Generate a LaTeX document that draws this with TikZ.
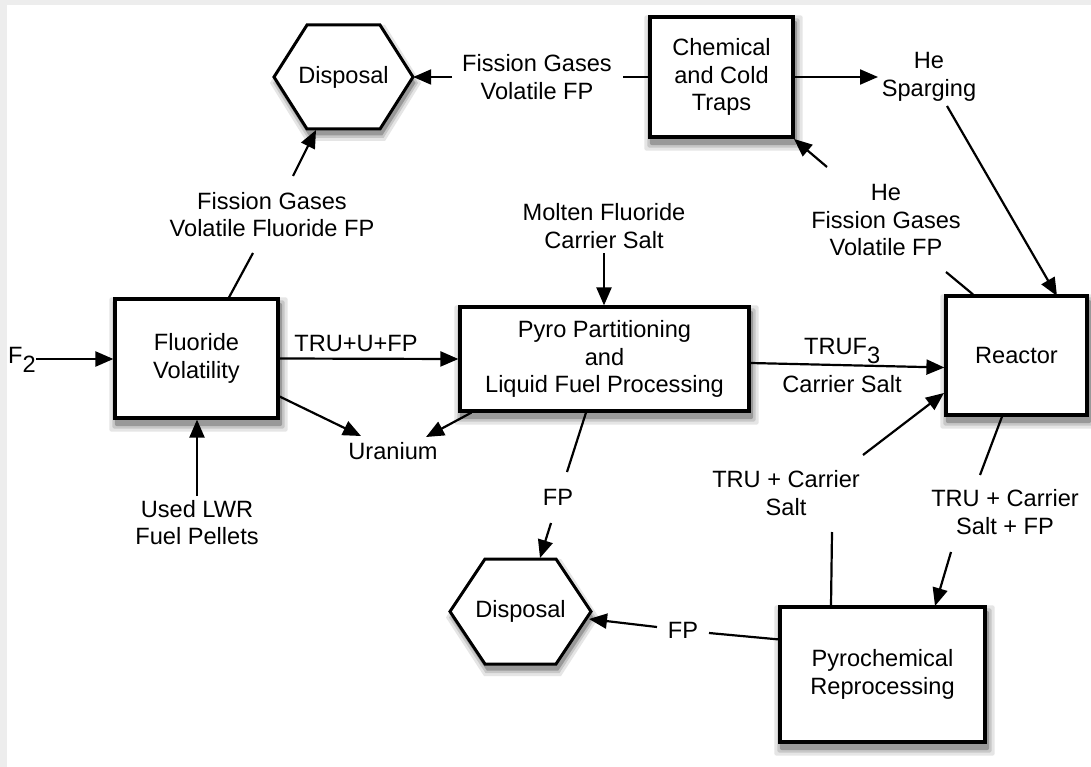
\documentclass[tikz,border=0pt]{standalone}
\usepackage{fontspec}
\setmainfont{Liberation Sans}
\usetikzlibrary{arrows.meta}
\tikzset{
  lbl/.style={font=\fontsize{23.6}{27.5}\selectfont, align=center, inner sep=0pt},
  procbox/.style={lbl, draw, line width=3.2pt, fill=white},
  hexbox/.style={lbl},
  hexline/.style={draw, line width=3pt, fill=white, line join=miter},
  ln/.style={line width=2.2pt},
  arr/.style={line width=2.2pt, -{Triangle[length=18pt,width=15pt]}},
  shadowfill/.style={fill=#1, draw=none},
}
\begin{document}
\begin{tikzpicture}[x=1pt,y=-1pt]
\useasboundingbox (0,0) rectangle (1091,767);
\fill[black!7] (0,0) rectangle (1091,767);
\fill[white] (7,5) rectangle (1091,767);

% shadows (layered greys, offset right and down)
\foreach \cx/\cy/\w/\h in {196.5/358.5/163/119, 604.5/359/289/104, 1016.5/355.5/141/119, 721.5/77/143/120, 882.5/674.5/205/135}{
  \foreach \g/\c in {6/10, 3/22, 0.5/40}{
    \path[shadowfill=black!\c, rounded corners=2pt]
      ({\cx-\w/2-1.6+2-\g},{\cy-\h/2-1.6+6-\g}) rectangle ({\cx+\w/2+1.6+2+\g},{\cy+\h/2+1.6+6+\g});
  }
}
\foreach \cx/\cy/\w/\h/\e in {343.5/77/139/104/33, 520.5/611.5/141/105/35}{
  \foreach \g/\c in {6/10, 3/22, 0.5/40}{
    \path[shadowfill=black!\c]
      ({\cx-\w/2-\g+2},{\cy+6}) -- ({\cx-\w/2+\e-\g/2+2},{\cy-\h/2-\g+6}) -- ({\cx+\w/2-\e+\g/2+2},{\cy-\h/2-\g+6})
      -- ({\cx+\w/2+\g+2},{\cy+6}) -- ({\cx+\w/2-\e+\g/2+2},{\cy+\h/2+\g+6}) -- ({\cx-\w/2+\e-\g/2+2},{\cy+\h/2+\g+6}) -- cycle;
  }
  \path[hexline]
    ({\cx-\w/2},{\cy}) -- ({\cx-\w/2+\e},{\cy-\h/2}) -- ({\cx+\w/2-\e},{\cy-\h/2})
    -- ({\cx+\w/2},{\cy}) -- ({\cx+\w/2-\e},{\cy+\h/2}) -- ({\cx-\w/2+\e},{\cy+\h/2}) -- cycle;
}

% process boxes
\node[procbox, minimum width=163pt, minimum height=119pt] (fluor) at (196.5,358.5) {Fluoride\\Volatility};
\node[procbox, minimum width=289pt, minimum height=104pt] (pyro) at (604.5,359) {Pyro Partitioning\\and\\Liquid Fuel Processing};
\node[procbox, minimum width=141pt, minimum height=119pt] (reactor) at (1016.5,355.5) {Reactor};
\node[procbox, minimum width=143pt, minimum height=120pt] (chem) at (721.5,77) {Chemical\\and Cold\\Traps};
\node[procbox, minimum width=205pt, minimum height=135pt] (pyrochem) at (882.5,674.5) {Pyrochemical\\Reprocessing};

% disposal hexagons (text; outline drawn above)
\node[hexbox, minimum width=139pt, minimum height=104pt] (disp1) at (343.5,77) {Disposal};
\node[hexbox, minimum width=141pt, minimum height=105pt] (disp2) at (520.5,611.5) {Disposal};

% labels
\node[lbl, anchor=base west] (f2) at (8,363) {F\raisebox{-9pt}{2}};
\node[lbl] (fgtop) at (537,77) {Fission Gases\\Volatile FP};
\node[lbl] (spar) at (929,77) {He\\Sparging};
\node[lbl] (hefg) at (886,220) {He\\Fission Gases\\Volatile FP};
\node[lbl] (molten) at (604,226) {Molten Fluoride\\Carrier Salt};
\node[lbl] (fgvol) at (272,214.5) {Fission Gases\\Volatile Fluoride FP};
\node[lbl] (truufp) at (356,343) {TRU+U+FP};
\node[lbl] (uran) at (393,451) {Uranium};
\node[lbl] (lwr) at (197,522.5) {Used LWR\\Fuel Pellets};
\node[lbl] (fpa) at (558,497) {FP};
\node[lbl, anchor=base west] (truf) at (804,354) {TRUF\raisebox{-9pt}{3}};
\node[lbl] (carr) at (842,384) {Carrier Salt};
\node[lbl] (trucs) at (786,493) {TRU + Carrier\\Salt};
\node[lbl] (trucsfp) at (1005,512) {TRU + Carrier\\Salt + FP};
\node[lbl] (fpb) at (683,630) {FP};

% free ends of connectors
\coordinate (f2e) at (36,359);
\coordinate (u1) at (361,436);
\coordinate (u2) at (426,437);
\coordinate (lwrt) at (197,496);
\coordinate (fgvb) at (253,253);
\coordinate (fgvt) at (293,176);
\coordinate (d1b) at (316,130);
\coordinate (moltb) at (604,253);
\coordinate (fpat) at (567,472);
\coordinate (fpab) at (551,523);
\coordinate (d2t) at (540,558);
\coordinate (fpbr) at (709,633);
\coordinate (fpbl) at (657,627);
\coordinate (d2r) at (589,619);
\coordinate (tcfpt) at (980,475);
\coordinate (tcfpb) at (951,552);
\coordinate (pct) at (935,606);
\coordinate (tcb) at (832,532);
\coordinate (tct) at (863,455);
\coordinate (rin) at (944,393);
\coordinate (hefgb) at (946,272);
\coordinate (hefgt) at (827,167);
\coordinate (chbr) at (794,139);
\coordinate (spl) at (878,77);
\coordinate (spb) at (947,106);
\coordinate (rtop) at (1057,296);
\coordinate (fgtr) at (623,77);
\coordinate (fgtl) at (452,77);

% connectors
\draw[arr] (f2e) -- (f2e -| fluor.west);
\draw[arr] (fluor.east) -- (pyro.west);
\draw[arr] ([yshift=-38pt]fluor.east) -- (u1);
\draw[arr] ([xshift=13pt]pyro.south west) -- (u2);
\draw[arr] (lwrt) -- (lwrt |- fluor.south);
\draw[ln] ([xshift=32.5pt]fluor.north) -- (fgvb);
\draw[arr] (fgvt) -- (d1b);
\draw[arr] (moltb) -- (moltb |- pyro.north);
\draw[arr] ([yshift=-4pt]pyro.east) -- ([yshift=-12pt]reactor.west);
\draw[ln] ([xshift=-18.5pt]pyro.south) -- (fpat);
\draw[arr] (fpab) -- (d2t);
\draw[ln] ([yshift=-34pt]pyrochem.north west) -- (fpbr);
\draw[arr] (fpbl) -- (d2r);
\draw[ln] ([xshift=-14.5pt]reactor.south) -- (tcfpt);
\draw[arr] (tcfpb) -- (pct);
\draw[ln] ([xshift=-51.5pt]pyrochem.north) -- (tcb);
\draw[arr] (tct) -- (rin);
\draw[ln] ([xshift=-43.5pt]reactor.north) -- (hefgb);
\draw[arr] (hefgt) -- (chbr);
\draw[arr] (chem.east) -- (spl);
\draw[arr] (spb) -- (rtop);
\draw[ln] (chem.west) -- (fgtr);
\draw[arr] (fgtl) -- (disp1.east);
\end{tikzpicture}
\end{document}
